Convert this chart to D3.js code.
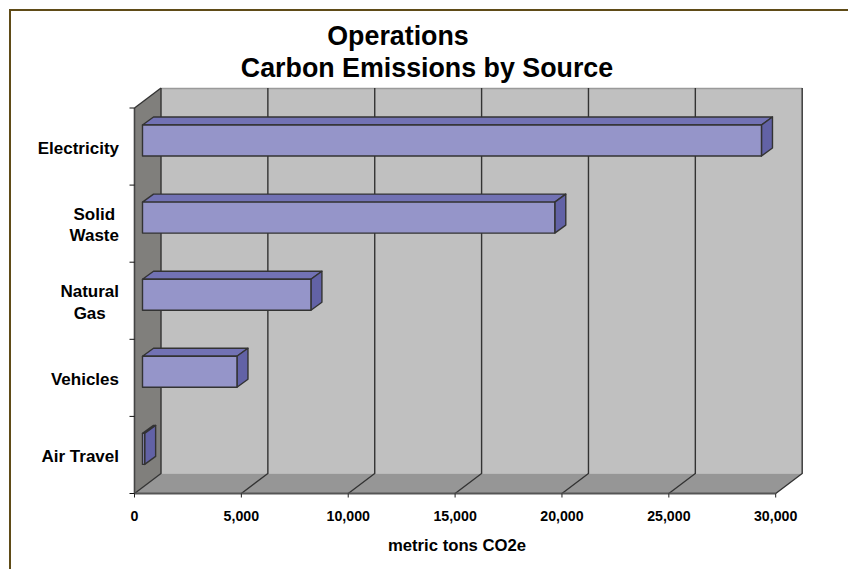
<!DOCTYPE html>
<html><head><meta charset="utf-8">
<script src="https://cdnjs.cloudflare.com/ajax/libs/d3/7.8.5/d3.min.js"></script>
<style>html,body{margin:0;padding:0;background:#fff}svg{display:block}text{font-family:"Liberation Sans",Arial,sans-serif;font-weight:bold;fill:#000}</style>
</head><body><svg id="c" width="848" height="569"></svg>
<script>
const categories=[["Electricity"],["Solid","Waste"],["Natural","Gas"],["Vehicles"],["Air Travel"]];
const values=[28960,19290,7880,4420,100];
const tickValues=[0,5000,10000,15000,20000,25000,30000];
const titleLines=["Operations","Carbon Emissions by Source"];
const axisLabel="metric tons CO2e";

const svg=d3.select("#c");
const x=d3.scaleLinear().domain([0,30000]).range([134.5,775.7]);
const y=d3.scaleBand().domain(d3.range(categories.length)).range([108,493.5]).paddingInner(0).paddingOuter(0);
const wallDx=26.5,wallDy=-20,barOff=8,barDx=11,barDy=-8,barTop=17,barH=31;
const line="#333";

// page frame
svg.append("path").attr("d","M10,569V10H848").attr("fill","none").attr("stroke","#5f4b17").attr("stroke-width",2);

const x0=x(0),x1=x(30000),yTop=y.range()[0],yBot=y.range()[1];
// back wall
svg.append("rect").attr("x",x0+wallDx).attr("y",yTop+wallDy).attr("width",x1-x0).attr("height",yBot-yTop).attr("fill","#c0c0c0");
svg.append("line").attr("x1",x0+wallDx).attr("x2",x1+wallDx).attr("y1",yTop+wallDy+.5).attr("y2",yTop+wallDy+.5).attr("stroke","#9a9a9a").attr("stroke-width",1.5);
// floor
svg.append("path").attr("d",`M${x0},${yBot}L${x0+wallDx},${yBot+wallDy}H${x1+wallDx}L${x1},${yBot}Z`).attr("fill","#969696");
// side wall
svg.append("path").attr("d",`M${x0},${yTop}L${x0+wallDx},${yTop+wallDy}V${yBot+wallDy}L${x0},${yBot}Z`).attr("fill","#807f7c");
// gridlines
tickValues.forEach(t=>{
  const X=x(t);
  svg.append("path").attr("d",`M${X},${yBot}L${X+wallDx},${yBot+wallDy}V${yTop+wallDy}`).attr("fill","none").attr("stroke",line).attr("stroke-width",1.4);
});
// axes
svg.append("path").attr("d",`M${x0},${yTop}L${x0+wallDx},${yTop+wallDy}`).attr("stroke",line).attr("stroke-width",1.4);
svg.append("line").attr("x1",x0).attr("x2",x0).attr("y1",yTop).attr("y2",yBot).attr("stroke","#444").attr("stroke-width",1.6);
svg.append("line").attr("x1",x0).attr("x2",x1).attr("y1",yBot).attr("y2",yBot).attr("stroke","#555").attr("stroke-width",1.8);
tickValues.forEach(t=>svg.append("line").attr("x1",x(t)).attr("x2",x(t)).attr("y1",yBot).attr("y2",yBot+4).attr("stroke","#222"));
d3.range(categories.length+1).forEach(i=>{
  const Y=yTop+i*y.step();
  svg.append("line").attr("x1",x0-5).attr("x2",x0).attr("y1",Y).attr("y2",Y).attr("stroke","#111");
});
// bars
const g=svg.append("g").attr("stroke",line).attr("stroke-width",1.4).attr("stroke-linejoin","round");
values.forEach((v,i)=>{
  const L=x0+barOff,R=L+(x(v)-x0),T=y(i)+barTop,B=T+barH;
  g.append("path").attr("d",`M${L},${T}L${L+barDx},${T+barDy}H${R+barDx}L${R},${T}Z`).attr("fill","#7272b4");
  g.append("path").attr("d",`M${R},${T}L${R+barDx},${T+barDy}V${B+barDy}L${R},${B}Z`).attr("fill","#6262a6");
  g.append("rect").attr("x",L).attr("y",T).attr("width",R-L).attr("height",barH).attr("fill","#9595c9");
});
// category labels: lines centred on each other, block right-aligned
categories.forEach((lines,i)=>{
  const cy=y(i)+y.step()/2+1.5;
  const t=svg.append("text").attr("text-anchor","middle").attr("font-size",17);
  const spans=lines.map((l,k)=>t.append("tspan").attr("y",cy+5.5+(k-(lines.length-1)/2)*21.5).text(l));
  const w=d3.max(spans,s=>s.node().getComputedTextLength());
  spans.forEach(s=>s.attr("x",119-w/2));
});
// tick labels
const fmt=d3.format(",");
tickValues.forEach(t=>svg.append("text").attr("x",x(t)).attr("y",521).attr("text-anchor","middle").attr("font-size",14.2).text(fmt(t)));
svg.append("text").attr("x",457).attr("y",551).attr("text-anchor","middle").attr("font-size",16.7).text(axisLabel);
// title
svg.append("text").attr("x",398).attr("y",45).attr("text-anchor","middle").attr("font-size",26.8).text(titleLines[0]);
svg.append("text").attr("x",427).attr("y",77).attr("text-anchor","middle").attr("font-size",26.8).text(titleLines[1]);
</script></body></html>
